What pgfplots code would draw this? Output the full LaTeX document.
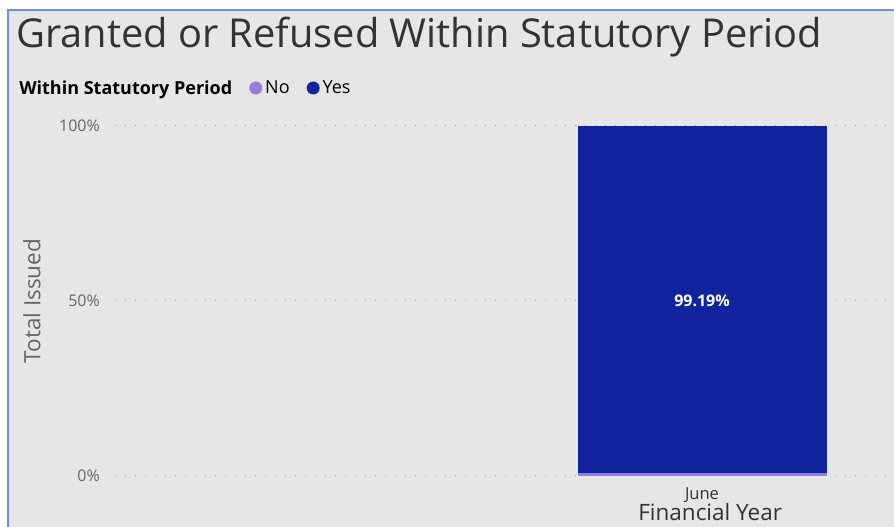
\documentclass[border=0pt]{standalone}
\usepackage{fontspec}
\setmainfont{Open Sans}
\usepackage{pgfplots}
\pgfplotsset{compat=1.18}
\definecolor{panel}{HTML}{E6E6E6}
\definecolor{frameblue}{HTML}{6A93D4}
\definecolor{yesblue}{HTML}{12239E}
\definecolor{nopurple}{HTML}{9E7BD9}
\definecolor{ticktext}{HTML}{666666}
\definecolor{titletext}{HTML}{333333}
\begin{document}
\begin{tikzpicture}[x=1pt,y=1pt]
\useasboundingbox (0,0) rectangle (894,527);
\fill[white] (0,0) rectangle (894,527);
\fill[panel] (8,0) rectangle (894,517);
\draw[frameblue, line width=1.5pt] (8,0) -- (8,517) -- (894,517);
\node[anchor=west, inner sep=0pt, text=titletext, font=\fontsize{39.8}{39.8}\selectfont] at (16,490) {Granted or Refused Within Statutory Period};
\begin{axis}[
    at={(115pt,51pt)}, anchor=south west,
    scale only axis, width=779pt, height=350pt,
    ybar stacked, bar width=249pt,
    xmin=0, xmax=779, ymin=0, ymax=100,
    axis line style={draw=none},
    ytick={0,50,100}, yticklabels={0\%,50\%,100\%},
    xtick={587}, xticklabels={June},
    major tick length=0pt,
    yticklabel style={anchor=east, inner sep=0pt, xshift=-15pt, text=ticktext, font=\fontsize{16}{16}\selectfont},
    xticklabel style={anchor=center, inner sep=0pt, yshift=-19pt, text=titletext, font=\fontsize{16.5}{16.5}\selectfont},
    ymajorgrids, grid style={ticktext!60, line width=1pt, dash pattern=on 1pt off 9pt},
    ylabel={Total Issued},
    ylabel style={at={(axis description cs:-0.1065,0.5)}, anchor=center, text=ticktext, font=\fontsize{22.5}{22.5}\selectfont},
    xlabel={Financial Year},
    xlabel style={at={(axis description cs:0.764,-0.104)}, anchor=center, inner sep=0pt, text=titletext, font=\fontsize{22.5}{22.5}\selectfont},
    legend columns=-1,
    legend style={at={(axis description cs:-0.127,1.1086)}, anchor=west, draw=none, fill=none,
        inner sep=0pt, font=\fontsize{18}{18}\selectfont, text=black,
        /tikz/every even column/.append style={column sep=15pt},
        /tikz/every odd column/.append style={column sep=1pt}},
    legend image code/.code={\fill[#1] (2pt,0pt) circle (6.5pt);},
]
\addlegendimage{empty legend}
\addlegendentry{\textbf{Within Statutory Period}}
\addplot[fill=nopurple, draw=none] coordinates {(587,0.81)};
\addlegendentry{No}
\addplot[fill=yesblue, draw=none] coordinates {(587,99.19)};
\addlegendentry{Yes}
\coordinate (lbl) at (axis cs:587,50);
\end{axis}
\node[text=white, font=\bfseries\fontsize{16}{16}\selectfont] at (lbl) {99.19\%};
\end{tikzpicture}
\end{document}
